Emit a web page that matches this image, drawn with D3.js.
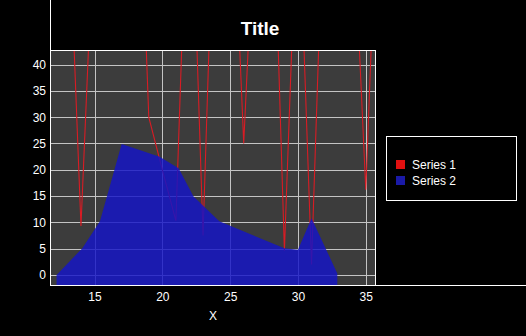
<!DOCTYPE html>
<html><head><meta charset="utf-8">
<script src="https://cdn.jsdelivr.net/npm/d3@7"></script>
<style>html,body{margin:0;padding:0;background:#000;}svg{display:block;}</style>
</head><body>
<svg id="chart" width="526" height="336"></svg>
<script>
// Series 1 (red line)
const s1X = [13, 14, 15, 16, 17, 18, 19, 20, 21, 22, 23, 24, 25, 26, 27, 28, 29, 30, 31, 32, 33, 34, 35, 36];
const s1Y = [76, 9.3, 70, 85, 95, 100, 30, 20, 10.3, 87, 7.5, 89, 86, 25, 80, 89, 4.6, 76, 2, 80, 90, 73, 16.2, 84];
// Series 2 (blue area)
const s2X = [12.2, 14.1, 15.4, 17.0, 19.8, 21.2, 22.3, 24.2, 29.0, 30.0, 31.0, 32.9];
const s2Y = [0, 5.1, 10.2, 24.9, 22.5, 20.3, 14.9, 10.2, 5.1, 4.8, 10.8, 0.3];
const xTicks = [15, 20, 25, 30, 35];
const yTicks = [0, 5, 10, 15, 20, 25, 30, 35, 40];
const seriesNames = ["Series 1", "Series 2"];
const seriesColors = ["#e01010", "#1a1aa8"];

const font = "'Liberation Sans', Arial, sans-serif";
const svg = d3.select("#chart");
const W = 526, H = 336;
const L = 51, R = 375, T = 50, B = 285;

svg.append("rect").attr("width", W).attr("height", H).attr("fill", "#000");

const x = d3.scaleLinear().domain([11.79, 35.68]).range([L, R]);
const y = d3.scaleLinear().domain([-1.9, 42.77]).range([B, T]);

// plot background
svg.append("rect").attr("x", L).attr("y", T).attr("width", R - L).attr("height", B - T).attr("fill", "#3c3c3c");

svg.append("defs").append("clipPath").attr("id", "clip")
  .append("rect").attr("x", L).attr("y", T).attr("width", R - L).attr("height", B - T);

// gridlines
const grid = svg.append("g");
grid.selectAll("line.gx").data(xTicks).join("line")
  .attr("x1", d => Math.round(x(d)) + 0.5).attr("x2", d => Math.round(x(d)) + 0.5)
  .attr("y1", T).attr("y2", B).attr("stroke", "#c4c4c4").attr("stroke-width", 1);
grid.selectAll("line.gy").data(yTicks).join("line")
  .attr("y1", d => Math.round(y(d)) + 0.5).attr("y2", d => Math.round(y(d)) + 0.5)
  .attr("x1", L).attr("x2", R).attr("stroke", "#c4c4c4").attr("stroke-width", 1);

const plot = svg.append("g").attr("clip-path", "url(#clip)");

// Series 1 line
const s1 = s1X.map((v, i) => [v, s1Y[i]]);
plot.append("path").datum(s1)
  .attr("d", d3.line().x(d => x(d[0])).y(d => y(d[1])))
  .attr("fill", "none").attr("stroke", "#d81c24").attr("stroke-width", 1.1);

// Series 2 area
const s2 = s2X.map((v, i) => [v, s2Y[i]]);
plot.append("path").datum(s2)
  .attr("d", d3.area().x(d => x(d[0])).y0(y.range()[0]).y1(d => y(d[1])))
  .attr("fill", "#1414c8").attr("fill-opacity", 0.82);

// frame lines
svg.append("line").attr("x1", 50.5).attr("x2", 50.5).attr("y1", 0).attr("y2", 286).attr("stroke", "#fff");
svg.append("line").attr("x1", 50).attr("x2", W).attr("y1", 285.5).attr("y2", 285.5).attr("stroke", "#fff");
svg.append("line").attr("x1", 50).attr("x2", R + 1).attr("y1", T + 0.5).attr("y2", T + 0.5).attr("stroke", "#fff");
svg.append("line").attr("x1", R + 0.5).attr("x2", R + 0.5).attr("y1", T).attr("y2", B + 1).attr("stroke", "#fff");

// axis labels via d3 axes (no tick lines/domain)
const xAxis = svg.append("g").attr("transform", `translate(0,${B})`)
  .call(d3.axisBottom(x).tickValues(xTicks).tickSize(0).tickPadding(7));
const yAxis = svg.append("g").attr("transform", `translate(${L},0)`)
  .call(d3.axisLeft(y).tickValues(yTicks).tickSize(0).tickPadding(5));
[xAxis, yAxis].forEach(a => {
  a.select(".domain").remove();
  a.selectAll("text").attr("fill", "#fff").style("font-family", font).style("font-size", "12px");
});

// title
svg.append("text").attr("x", 260).attr("y", 35).attr("text-anchor", "middle")
  .attr("fill", "#fff").style("font-family", font).style("font-weight", "bold").style("font-size", "19px")
  .text("Title");

// x axis label
svg.append("text").attr("x", (L + R) / 2).attr("y", 320).attr("text-anchor", "middle")
  .attr("fill", "#fff").style("font-family", font).style("font-size", "12px").text("X");

// legend
const lg = svg.append("g");
lg.append("rect").attr("x", 386.5).attr("y", 136.5).attr("width", 130).attr("height", 64)
  .attr("fill", "#000").attr("stroke", "#fff");
seriesNames.forEach((name, i) => {
  lg.append("rect").attr("x", 396).attr("y", 160 + i * 16).attr("width", 9).attr("height", 9)
    .attr("fill", seriesColors[i]);
  lg.append("text").attr("x", 412).attr("y", 168.5 + i * 16).attr("fill", "#fff")
    .style("font-family", font).style("font-size", "12px").text(name);
});
</script>
</body></html>
